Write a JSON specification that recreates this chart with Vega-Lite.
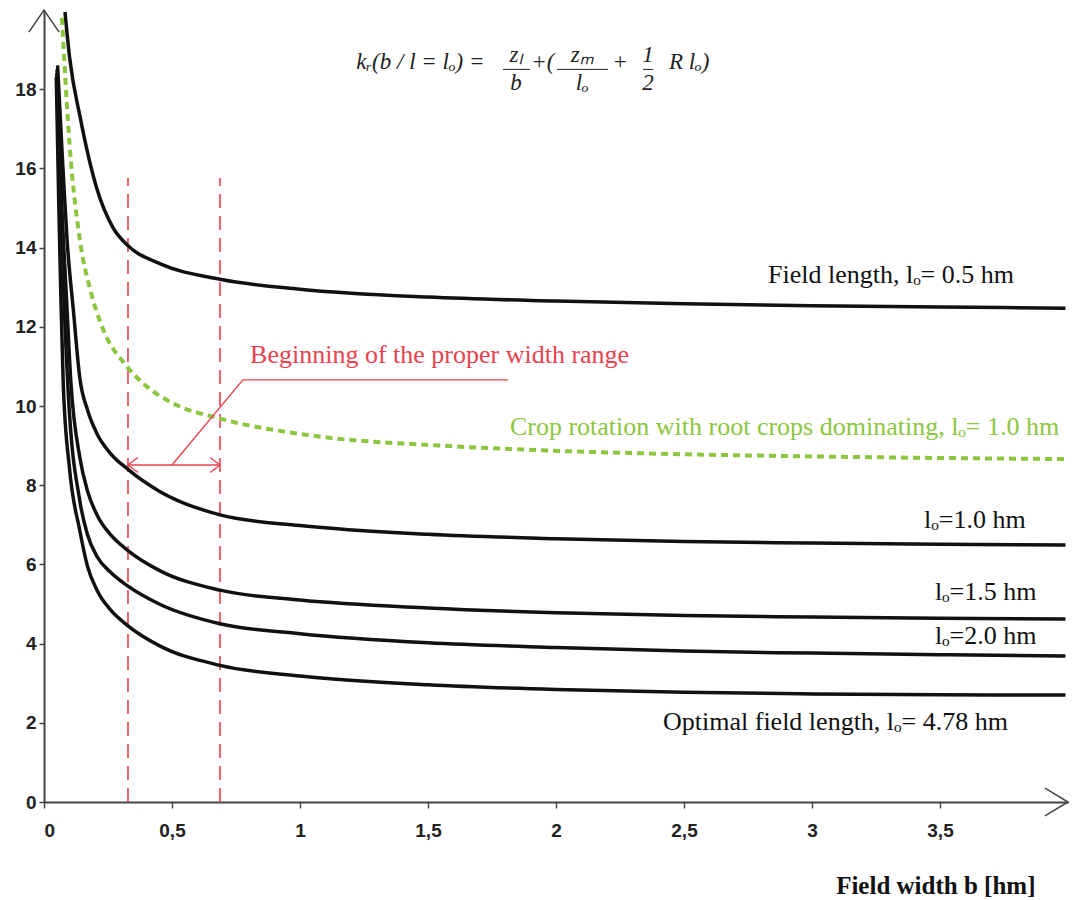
{
  "$schema": "https://vega.github.io/schema/vega-lite/v6.json",
  "width": 1024,
  "height": 792,
  "autosize": {"type": "none"},
  "padding": {"left": 44, "top": 10, "right": 11, "bottom": 98},
  "background": "white",
  "config": {"view": {"stroke": null}, "axis": {"grid": false}},
  "datasets": {
    "black": [
      {"s":"A","b":0.082,"k":19.95},{"s":"A","b":0.1,"k":18.8},{"s":"A","b":0.141,"k":17.3},{"s":"A","b":0.206,"k":15.5},{"s":"A","b":0.27,"k":14.5},{"s":"A","b":0.328,"k":14.05},{"s":"A","b":0.45,"k":13.6},{"s":"A","b":0.6875,"k":13.2},{"s":"A","b":1.0,"k":12.95},{"s":"A","b":1.5,"k":12.75},{"s":"A","b":2.0,"k":12.65},{"s":"A","b":2.5,"k":12.58},{"s":"A","b":3.0,"k":12.53},{"s":"A","b":3.5,"k":12.5},{"s":"A","b":3.99,"k":12.47},
      {"s":"C","b":0.053,"k":18.6},{"s":"C","b":0.074,"k":16.0},{"s":"C","b":0.09,"k":14.2},{"s":"C","b":0.115,"k":12.4},{"s":"C","b":0.14,"k":10.7},{"s":"C","b":0.17,"k":9.9},{"s":"C","b":0.207,"k":9.3},{"s":"C","b":0.26,"k":8.8},{"s":"C","b":0.328,"k":8.4},{"s":"C","b":0.45,"k":7.85},{"s":"C","b":0.6875,"k":7.25},{"s":"C","b":1.0,"k":6.98},{"s":"C","b":1.5,"k":6.76},{"s":"C","b":2.0,"k":6.65},{"s":"C","b":2.5,"k":6.58},{"s":"C","b":3.0,"k":6.54},{"s":"C","b":3.5,"k":6.51},{"s":"C","b":3.99,"k":6.49},
      {"s":"D","b":0.051,"k":18.5},{"s":"D","b":0.07,"k":15.0},{"s":"D","b":0.088,"k":12.7},{"s":"D","b":0.105,"k":10.6},{"s":"D","b":0.14,"k":8.7},{"s":"D","b":0.17,"k":7.85},{"s":"D","b":0.207,"k":7.25},{"s":"D","b":0.26,"k":6.75},{"s":"D","b":0.328,"k":6.35},{"s":"D","b":0.45,"k":5.85},{"s":"D","b":0.6875,"k":5.35},{"s":"D","b":1.0,"k":5.1},{"s":"D","b":1.5,"k":4.9},{"s":"D","b":2.0,"k":4.78},{"s":"D","b":2.5,"k":4.71},{"s":"D","b":3.0,"k":4.67},{"s":"D","b":3.5,"k":4.64},{"s":"D","b":3.99,"k":4.62},
      {"s":"E","b":0.05,"k":18.4},{"s":"E","b":0.066,"k":15.0},{"s":"E","b":0.078,"k":12.7},{"s":"E","b":0.095,"k":10.3},{"s":"E","b":0.14,"k":7.6},{"s":"E","b":0.17,"k":6.75},{"s":"E","b":0.207,"k":6.2},{"s":"E","b":0.26,"k":5.8},{"s":"E","b":0.328,"k":5.45},{"s":"E","b":0.45,"k":5.0},{"s":"E","b":0.6875,"k":4.5},{"s":"E","b":1.0,"k":4.25},{"s":"E","b":1.5,"k":4.02},{"s":"E","b":2.0,"k":3.9},{"s":"E","b":2.5,"k":3.81},{"s":"E","b":3.0,"k":3.76},{"s":"E","b":3.5,"k":3.72},{"s":"E","b":3.99,"k":3.69},
      {"s":"F","b":0.048,"k":18.3},{"s":"F","b":0.058,"k":15.0},{"s":"F","b":0.066,"k":12.7},{"s":"F","b":0.075,"k":10.6},{"s":"F","b":0.1,"k":8.4},{"s":"F","b":0.14,"k":6.85},{"s":"F","b":0.17,"k":5.95},{"s":"F","b":0.207,"k":5.35},{"s":"F","b":0.26,"k":4.85},{"s":"F","b":0.328,"k":4.45},{"s":"F","b":0.45,"k":3.95},{"s":"F","b":0.6875,"k":3.45},{"s":"F","b":1.0,"k":3.18},{"s":"F","b":1.5,"k":2.96},{"s":"F","b":2.0,"k":2.84},{"s":"F","b":2.5,"k":2.77},{"s":"F","b":3.0,"k":2.73},{"s":"F","b":3.5,"k":2.71},{"s":"F","b":3.99,"k":2.7}
    ],
    "green": [
      {"b":0.07,"k":19.8},{"b":0.1,"k":16.6},{"b":0.14,"k":14.2},{"b":0.18,"k":12.95},{"b":0.227,"k":12.0},{"b":0.324,"k":11.0},{"b":0.4,"k":10.5},{"b":0.5,"k":10.08},{"b":0.69,"k":9.68},{"b":1.05,"k":9.25},{"b":1.55,"k":9.0},{"b":1.95,"k":8.88},{"b":2.37,"k":8.8},{"b":3.08,"k":8.72},{"b":3.99,"k":8.66}
    ],
    "redlines": [
      {"seg":"shaft","i":0,"b":0.328,"k":8.51},{"seg":"shaft","i":1,"b":0.6875,"k":8.51},
      {"seg":"lh","i":0,"b":0.367,"k":8.7},{"seg":"lh","i":1,"b":0.328,"k":8.51},{"seg":"lh","i":2,"b":0.367,"k":8.32},
      {"seg":"rh","i":0,"b":0.649,"k":8.7},{"seg":"rh","i":1,"b":0.6875,"k":8.51},{"seg":"rh","i":2,"b":0.649,"k":8.32},
      {"seg":"lead","i":0,"b":0.5,"k":8.51},{"seg":"lead","i":1,"b":0.777,"k":10.66},{"seg":"lead","i":2,"b":1.8125,"k":10.66}
    ],
    "arrows": [
      {"seg":"xa","i":0,"b":3.91,"k":0.35},{"seg":"xa","i":1,"b":4.0,"k":0},{"seg":"xa","i":2,"b":3.91,"k":-0.35},
      {"seg":"ya","i":0,"b":-0.059,"k":19.44},{"seg":"ya","i":1,"b":0,"k":20},{"seg":"ya","i":2,"b":0.059,"k":19.44}
    ],
    "formula": [
      {"t":"kᵣ(b / l  = lₒ) =","b":1.47,"k":18.69},
      {"t":"zₗ","b":1.844,"k":18.86},
      {"t":"b","b":1.844,"k":18.15},
      {"t":"+(","b":1.949,"k":18.69},
      {"t":"zₘ","b":2.102,"k":18.86},
      {"t":"lₒ","b":2.102,"k":18.15},
      {"t":"+","b":2.25,"k":18.69},
      {"t":"1","b":2.359,"k":18.86},
      {"t":"2","b":2.359,"k":18.15},
      {"t":"R lₒ)","b":2.52,"k":18.69}
    ],
    "bars": [
      {"b":1.793,"b2":1.898,"k":18.5},
      {"b":2.004,"b2":2.203,"k":18.5},
      {"b":2.34,"b2":2.38,"k":18.5}
    ],
    "labels": [
      {"t":"Field length, lₒ= 0.5 hm","b":2.828,"k":13.11},
      {"t":"lₒ=1.0  hm","b":3.4375,"k":6.92},
      {"t":"lₒ=1.5  hm","b":3.48,"k":5.1},
      {"t":"lₒ=2.0  hm","b":3.48,"k":3.99},
      {"t":"Optimal field length, lₒ= 4.78 hm","b":2.418,"k":1.82}
    ]
  },
  "layer": [
    {
      "data": {"values": [{"b": 0.328}, {"b": 0.6875}]},
      "mark": {"type": "rule", "color": "#e8424f", "strokeDash": [14, 8], "strokeWidth": 1.6},
      "encoding": {
        "x": {"field": "b", "type": "quantitative", "scale": {"domain": [0, 4], "nice": false},
          "axis": {"values": [0, 0.5, 1, 1.5, 2, 2.5, 3, 3.5], "labelExpr": "replace(toString(datum.value), '.', ',')",
            "labelFont": "Liberation Sans", "labelFontWeight": "bold", "labelFontSize": 19, "labelColor": "#222",
            "labelPadding": 13, "tickSize": 6, "tickColor": "#444", "tickWidth": 1.5,
            "domainColor": "#444", "domainWidth": 2,
            "title": "Field width b [hm]", "titleFont": "Liberation Serif", "titleFontWeight": "bold", "titleFontSize": 25,
            "titleColor": "#111", "titleX": 991, "titleY": 91, "titleAlign": "right", "titleBaseline": "alphabetic"}},
        "y": {"datum": 0, "type": "quantitative", "scale": {"domain": [0, 20], "nice": false},
          "axis": {"values": [0, 2, 4, 6, 8, 10, 12, 14, 16, 18], "labelFont": "Liberation Sans", "labelFontWeight": "bold",
            "labelFontSize": 19, "labelColor": "#222", "labelPadding": 3, "tickSize": 5, "tickColor": "#444", "tickWidth": 1.5,
            "domainColor": "#444", "domainWidth": 2, "title": null}},
        "y2": {"datum": 15.76}
      }
    },
    {
      "data": {"name": "black"},
      "mark": {"type": "line", "color": "#111", "strokeWidth": 3.5, "interpolate": "monotone"},
      "encoding": {
        "x": {"field": "b", "type": "quantitative"},
        "y": {"field": "k", "type": "quantitative"},
        "detail": {"field": "s"}
      }
    },
    {
      "data": {"name": "green"},
      "mark": {"type": "line", "color": "#8cc63e", "strokeWidth": 4, "strokeDash": [7, 5], "interpolate": "monotone"},
      "encoding": {
        "x": {"field": "b", "type": "quantitative"},
        "y": {"field": "k", "type": "quantitative"}
      }
    },
    {
      "data": {"name": "redlines"},
      "mark": {"type": "line", "color": "#e8424f", "strokeWidth": 1.4},
      "encoding": {
        "x": {"field": "b", "type": "quantitative"},
        "y": {"field": "k", "type": "quantitative"},
        "detail": {"field": "seg"},
        "order": {"field": "i"}
      }
    },
    {
      "data": {"name": "arrows"},
      "mark": {"type": "line", "color": "#444", "strokeWidth": 1.5},
      "encoding": {
        "x": {"field": "b", "type": "quantitative"},
        "y": {"field": "k", "type": "quantitative"},
        "detail": {"field": "seg"},
        "order": {"field": "i"}
      }
    },
    {
      "data": {"name": "bars"},
      "mark": {"type": "rule", "color": "#222", "strokeWidth": 1},
      "encoding": {
        "x": {"field": "b", "type": "quantitative"},
        "x2": {"field": "b2"},
        "y": {"field": "k", "type": "quantitative"}
      }
    },
    {
      "data": {"name": "formula"},
      "mark": {"type": "text", "font": "Liberation Serif", "fontStyle": "italic", "fontSize": 23, "align": "center", "baseline": "middle", "color": "#222"},
      "encoding": {
        "x": {"field": "b", "type": "quantitative"},
        "y": {"field": "k", "type": "quantitative"},
        "text": {"field": "t"}
      }
    },
    {
      "data": {"name": "labels"},
      "mark": {"type": "text", "font": "Liberation Serif", "fontSize": 26, "align": "left", "baseline": "alphabetic", "color": "#111"},
      "encoding": {
        "x": {"field": "b", "type": "quantitative"},
        "y": {"field": "k", "type": "quantitative"},
        "text": {"field": "t"}
      }
    },
    {
      "data": {"values": [{"t": "Beginning of the proper width range", "b": 0.805, "k": 11.09}]},
      "mark": {"type": "text", "font": "Liberation Serif", "fontSize": 26, "align": "left", "baseline": "alphabetic", "color": "#e8424f"},
      "encoding": {
        "x": {"field": "b", "type": "quantitative"},
        "y": {"field": "k", "type": "quantitative"},
        "text": {"field": "t"}
      }
    },
    {
      "data": {"values": [{"t": "Crop rotation with root crops dominating, lₒ= 1.0 hm", "b": 1.82, "k": 9.27}]},
      "mark": {"type": "text", "font": "Liberation Serif", "fontSize": 26, "align": "left", "baseline": "alphabetic", "color": "#8cc63e"},
      "encoding": {
        "x": {"field": "b", "type": "quantitative"},
        "y": {"field": "k", "type": "quantitative"},
        "text": {"field": "t"}
      }
    }
  ]
}
